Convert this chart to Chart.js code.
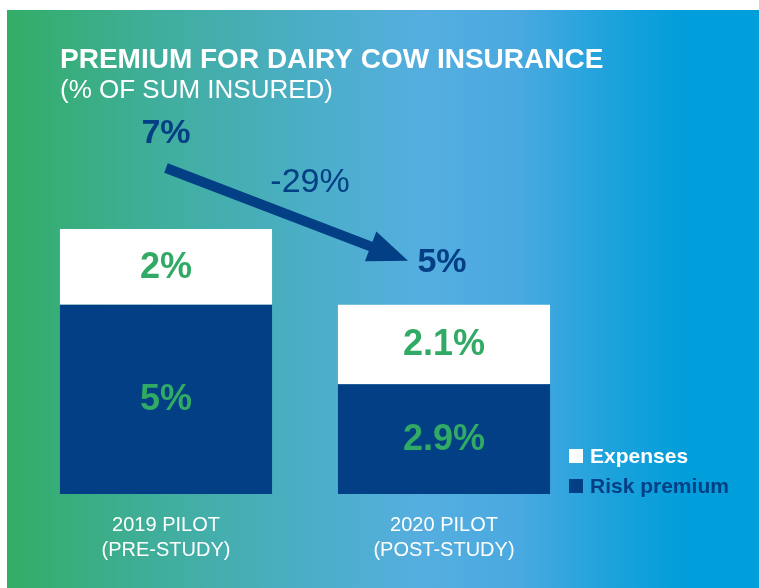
<!DOCTYPE html>
<html>
<head>
<meta charset="utf-8">
<script src="https://cdn.jsdelivr.net/npm/chart.js@4.4.1/dist/chart.umd.min.js"></script>
<style>
  html, body { margin: 0; padding: 0; background: #fff; }
  #wrap { width: 759px; height: 588px; }
</style>
</head>
<body>
<div id="wrap"><canvas id="chart" width="759" height="588"></canvas></div>
<script>
// ── Data ────────────────────────────────────────────────────────────────────
var CATEGORIES   = [['2019 PILOT', '(PRE-STUDY)'], ['2020 PILOT', '(POST-STUDY)']];
var RISK_PREMIUM = [5, 2.9];
var EXPENSES     = [2, 2.1];
var SERIES_NAMES = ['Risk premium', 'Expenses'];
var TITLE        = 'PREMIUM FOR DAIRY COW INSURANCE';
var SUBTITLE     = '(% OF SUM INSURED)';

// ── Styles ──────────────────────────────────────────────────────────────────
var FONT       = '"Liberation Sans", Arial, Helvetica, sans-serif';
var DARK_BLUE  = '#023f84';
var GREEN      = '#30aa64';
var WHITE      = '#ffffff';

function pct(v) { return String(v) + '%'; }

// background panel + headline
var panelPlugin = {
    id: 'panel',
    beforeDraw: function (chart) {
        var ctx = chart.ctx;
        ctx.save();
        ctx.fillStyle = '#fff';
        ctx.fillRect(0, 0, chart.width, chart.height);

        var g = ctx.createLinearGradient(7, 0, chart.width, 0);
        g.addColorStop(0.00, '#33ad66');
        g.addColorStop(0.20, '#40ae9c');
        g.addColorStop(0.40, '#4baec7');
        g.addColorStop(0.55, '#55aedf');
        g.addColorStop(0.68, '#4aa9e0');
        g.addColorStop(0.80, '#1ea2dc');
        g.addColorStop(0.90, '#019edb');
        g.addColorStop(1.00, '#009edb');
        ctx.fillStyle = g;
        ctx.fillRect(7, 10, chart.width - 7, chart.height - 10);

        ctx.fillStyle = WHITE;
        ctx.textAlign = 'left';
        ctx.textBaseline = 'alphabetic';
        ctx.font = 'bold 28px ' + FONT;
        ctx.fillText(TITLE, 60, 68);
        ctx.font = '26px ' + FONT;
        ctx.fillText(SUBTITLE, 60, 98);
        ctx.restore();
    }
};

// value labels, totals, change arrow, legend
var labelPlugin = {
    id: 'labels',
    afterDatasetsDraw: function (chart) {
        var ctx = chart.ctx;
        var datasets = chart.data.datasets;
        ctx.save();
        ctx.textAlign = 'center';
        ctx.textBaseline = 'middle';

        // values inside segments
        ctx.fillStyle = GREEN;
        ctx.font = 'bold 36px ' + FONT;
        datasets.forEach(function (ds, di) {
            chart.getDatasetMeta(di).data.forEach(function (bar, i) {
                ctx.fillText(pct(ds.data[i]), bar.x, (bar.y + bar.base) / 2 + 1);
            });
        });

        // totals above stacks
        var topMeta = chart.getDatasetMeta(datasets.length - 1).data;
        var totals = CATEGORIES.map(function (c, i) {
            return datasets.reduce(function (s, ds) { return s + ds.data[i]; }, 0);
        });
        var lift = [95, 42];
        var pts = topMeta.map(function (bar, i) {
            return { x: bar.x - (i ? 2 : 0), y: bar.y - lift[i] };
        });
        ctx.fillStyle = DARK_BLUE;
        ctx.font = 'bold 34px ' + FONT;
        pts.forEach(function (p, i) {
            ctx.fillText(pct(Math.round(totals[i] * 10) / 10), p.x, p.y);
        });

        // arrow between totals
        var tail = { x: pts[0].x, y: pts[0].y + 34 };
        var tip  = { x: pts[1].x - 34, y: pts[1].y - 2 };
        var ang = Math.atan2(tip.y - tail.y, tip.x - tail.x);
        var headLen = 40, headHalf = 16;
        var bx = tip.x - headLen * Math.cos(ang), by = tip.y - headLen * Math.sin(ang);
        ctx.strokeStyle = DARK_BLUE;
        ctx.lineWidth = 10;
        ctx.beginPath();
        ctx.moveTo(tail.x, tail.y);
        ctx.lineTo(bx + 2 * Math.cos(ang), by + 2 * Math.sin(ang));
        ctx.stroke();
        ctx.beginPath();
        ctx.moveTo(tip.x, tip.y);
        ctx.lineTo(bx - headHalf * Math.sin(ang), by + headHalf * Math.cos(ang));
        ctx.lineTo(bx + headHalf * Math.sin(ang), by - headHalf * Math.cos(ang));
        ctx.closePath();
        ctx.fill();

        // change label
        var change = Math.round((totals[1] - totals[0]) / totals[0] * 100);
        ctx.font = '34px ' + FONT;
        ctx.fillText(change + '%', (tail.x + tip.x) / 2 + 23, (tail.y + tip.y) / 2 - 32);

        // legend (top entry = top of stack)
        ctx.textAlign = 'left';
        ctx.font = 'bold 21px ' + FONT;
        var lx = 569, ly = 449;
        for (var k = datasets.length - 1, row = 0; k >= 0; k--, row++) {
            var col = datasets[k].backgroundColor;
            ctx.fillStyle = col;
            ctx.fillRect(lx, ly + row * 30, 14, 14);
            ctx.fillText(datasets[k].label, lx + 21, ly + row * 30 + 8);
        }
        ctx.restore();
    }
};

new Chart(document.getElementById('chart').getContext('2d'), {
    type: 'bar',
    data: {
        labels: CATEGORIES,
        datasets: [
            {
                label: SERIES_NAMES[0],
                data: RISK_PREMIUM,
                backgroundColor: DARK_BLUE,
                barPercentage: 0.763,
                categoryPercentage: 1.0,
            },
            {
                label: SERIES_NAMES[1],
                data: EXPENSES,
                backgroundColor: WHITE,
                barPercentage: 0.763,
                categoryPercentage: 1.0,
            },
        ],
    },
    options: {
        responsive: false,
        animation: false,
        layout: { padding: { top: 229, left: 27, right: 176, bottom: 6 } },
        plugins: {
            legend: { display: false },
            tooltip: { enabled: false },
            title: { display: false },
        },
        scales: {
            x: {
                stacked: true,
                grid: { display: false, drawTicks: false },
                border: { display: false },
                ticks: {
                    color: WHITE,
                    font: { family: FONT, size: 20, lineHeight: 1.25 },
                    padding: 19,
                    maxRotation: 0,
                    autoSkip: false,
                },
            },
            y: {
                stacked: true,
                display: false,
                min: 0,
                max: 7,
            },
        },
    },
    plugins: [panelPlugin, labelPlugin],
});
</script>
</body>
</html>
